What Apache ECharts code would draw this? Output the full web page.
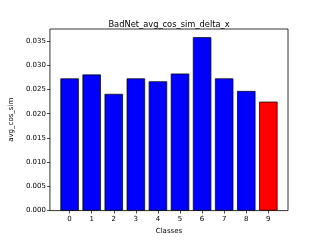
<!DOCTYPE html>
<html><head><meta charset="utf-8">
<script src="https://cdn.jsdelivr.net/npm/echarts@6/dist/echarts.min.js"></script>
<style>html,body{margin:0;padding:0;background:#fff}#c{width:320px;height:240px}</style>
</head><body><div id="c"></div>
<script>
const classes = [0, 1, 2, 3, 4, 5, 6, 7, 8, 9];
const values = [0.0273, 0.0281, 0.0241, 0.0273, 0.0267, 0.0283, 0.0358, 0.0273, 0.0247, 0.0225];
const barColors = ['#0000ff','#0000ff','#0000ff','#0000ff','#0000ff','#0000ff','#0000ff','#0000ff','#0000ff','#ff0000'];
const yTicks = [0, 0.005, 0.01, 0.015, 0.02, 0.025, 0.03, 0.035];
const titleText = 'BadNet_avg_cos_sim_delta_x';
const xName = 'Classes';
const yName = 'avg_cos_sim';

const font = 'DejaVu Sans';
const chart = echarts.init(document.getElementById('c'), null, {renderer: 'canvas'});
chart.setOption({
  animation: false,
  title: {text: titleText, left: 164, textAlign: 'center', top: 16,
    textStyle: {fontFamily: font, fontSize: 8.3, fontWeight: 'normal', color: '#000'}},
  grid: {left: 40, right: 32, top: 29, bottom: 27, show: true, borderColor: '#000', borderWidth: 0.8, backgroundColor: 'transparent'},
  xAxis: {
    type: 'value', min: -0.89, max: 9.89,
    name: xName, nameLocation: 'middle', nameGap: 17,
    nameTextStyle: {fontFamily: font, fontSize: 7, color: '#000'},
    axisLine: {show: false, onZero: false},
    splitLine: {show: false},
    axisTick: {show: true, length: 3, inside: false, customValues: classes, lineStyle: {color: '#000', width: 0.7}},
    axisLabel: {customValues: classes, fontFamily: font, fontSize: 7, color: '#000', margin: 5.5}
  },
  yAxis: {
    type: 'value', min: 0, max: 0.0375,
    name: yName, nameLocation: 'middle', nameGap: 30, nameRotate: 90,
    nameTextStyle: {fontFamily: font, fontSize: 7, color: '#000'},
    axisLine: {show: false, onZero: false},
    splitLine: {show: false},
    axisTick: {show: true, length: 3, customValues: yTicks, lineStyle: {color: '#000', width: 0.7}},
    axisLabel: {customValues: yTicks, fontFamily: font, fontSize: 7, color: '#000', margin: 4,
      formatter: v => v.toFixed(3)}
  },
  series: [{
    type: 'bar',
    barWidth: 18.4,
    data: classes.map((c, i) => ({value: [c, values[i]], itemStyle: {color: barColors[i]}})),
    itemStyle: {borderColor: '#000', borderWidth: 0.7}
  }]
});
</script></body></html>
